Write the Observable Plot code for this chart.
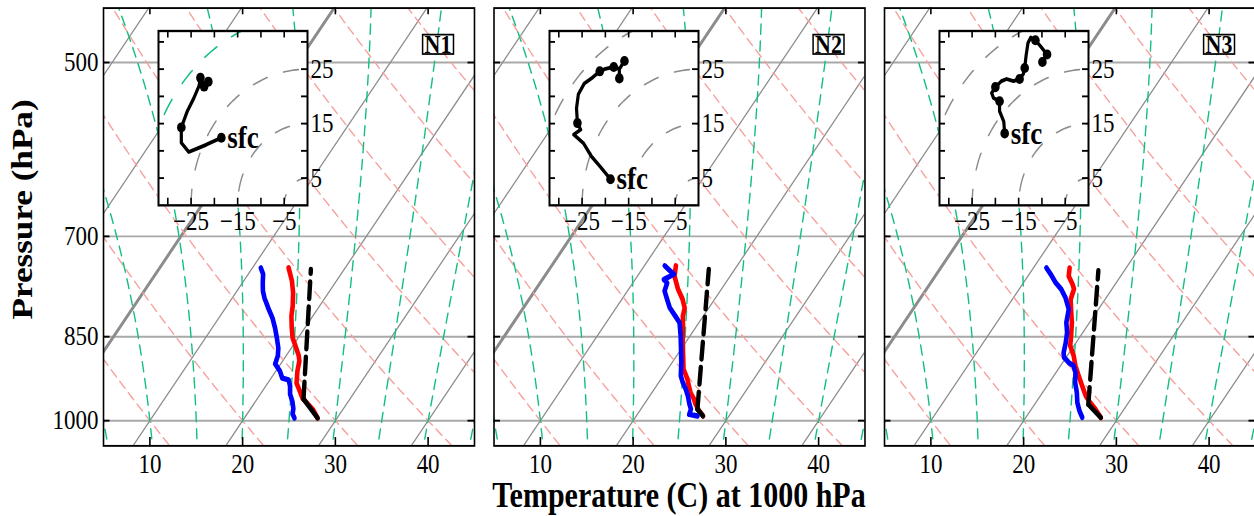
<!DOCTYPE html>
<html><head><meta charset="utf-8">
<script src="https://cdn.jsdelivr.net/npm/d3@7"></script>
<script src="https://cdn.jsdelivr.net/npm/@observablehq/plot@0.6"></script>
<style>
html{margin:0;padding:0;background:#fff;overflow:hidden;width:1254px;height:516px;}
body{margin:0;padding:0;background:#fff;width:1254px;height:516px;overflow:visible;}
#stage{position:relative;width:1256px;transform-origin:0 0;}
.abs{position:absolute;}
.ttl{font-family:"Liberation Serif","Times New Roman",Times,serif;font-weight:bold;font-size:30px;white-space:nowrap;color:#000;line-height:1.15;}
</style></head><body>
<div id="stage"></div>
<script>
// ---------------- data ----------------
const panels = ["N1", "N2", "N3"];
const pressureTicks = [500, 700, 850, 1000];
const tempTicks = [10, 20, 30, 40];
const isotherms = [-40, -30, -20, -10, 0, 10, 20, 30, 40, 50];
const dryThetas = [0, 10, 20, 30, 40, 50, 60, 70, 80, 90, 100];
const moistThetas = [5, 10, 15, 20, 25, 30, 35, 40, 45];
const hodoXTicks = [-30, -25, -20, -15, -10, -5];
const hodoXLabels = [-25, -15, -5];
const hodoYTicks = [5, 10, 15, 20, 25, 30];
const hodoYLabels = [5, 15, 25];
const ringRadii = [5, 15, 25, 35];

// N1 profiles (pressure hPa, temperature C)
const tempP1 = [744, 763, 781, 801, 817, 836, 852, 867, 881, 891, 908, 930, 944, 957, 968, 979, 995];
const temp1  = [13.9, 15.2, 16.2, 17.1, 17.7, 18.6, 19.4, 20.4, 21.3, 21.8, 22.3, 23.1, 24.0, 24.8, 25.8, 26.8, 27.9];
const dewP1  = [744, 753, 766, 778, 789, 804, 820, 836, 852, 869, 882, 896, 908, 921, 924, 935, 950, 964, 977, 987, 995];
const dew1   = [10.9, 11.6, 12.2, 12.8, 13.5, 14.6, 15.8, 16.8, 17.7, 18.6, 19.1, 19.4, 20.4, 21.2, 22.0, 22.6, 23.2, 24.0, 24.6, 24.9, 25.4];
const parcelSolidP1 = [995, 959], parcelSolid1 = [27.9, 25.0];
const parcelDashP1 = [959, 746], parcelDash1 = [25.0, 16.4];
// N2
const tempP2 = [741, 756, 775, 790, 804, 817, 832, 860, 882, 905, 922, 935, 948, 959, 968, 981, 991];
const temp2  = [13.4, 14.0, 15.3, 16.5, 17.4, 17.8, 18.5, 19.7, 20.7, 21.7, 22.8, 23.5, 24.2, 25.0, 25.5, 26.4, 27.2];
const dewP2  = [741, 748, 753, 761, 766, 778, 791, 804, 817, 827, 849, 871, 894, 917, 929, 941, 953, 969, 978, 988, 991];
const dew2   = [12.2, 13.1, 13.8, 13.1, 13.7, 14.0, 14.9, 15.8, 17.0, 17.9, 19.0, 20.0, 21.0, 21.9, 22.6, 23.4, 24.1, 24.9, 25.4, 25.6, 26.6];
const parcelSolidP2 = [991, 978], parcelSolid2 = [27.2, 26.1];
const parcelDashP2 = [978, 746], parcelDash2 = [26.1, 17.2];
// N3
const tempP3 = [744, 756, 768, 775, 791, 811, 827, 849, 865, 882, 899, 917, 935, 953, 966, 978, 994];
const temp3  = [13.9, 14.4, 15.4, 15.9, 16.3, 17.3, 18.1, 19.0, 19.6, 20.7, 21.6, 22.7, 23.8, 24.9, 25.9, 26.9, 28.1];
const dewP3  = [744, 753, 766, 775, 788, 806, 827, 843, 860, 877, 885, 894, 899, 911, 929, 947, 966, 981, 994];
const dew3   = [11.4, 12.3, 13.5, 14.5, 15.6, 16.8, 17.5, 18.3, 18.9, 19.4, 19.8, 20.7, 21.4, 22.1, 22.8, 23.7, 24.5, 25.3, 26.1];
const parcelSolidP3 = [994, 969], parcelSolid3 = [28.1, 25.8];
const parcelDashP3 = [969, 748], parcelDash3 = [25.8, 17.2];

// hodographs (u, v)
const hodoU1 = [-18.5, -21.8, -25.5, -27.1, -27.1, -25.8, -24.4, -23.3, -23.0, -22.4, -21.3, -22.2];
const hodoV1 = [12.4, 11.1, 9.8, 11.5, 14.3, 17.3, 19.7, 21.9, 23.4, 22.3, 22.7, 21.8];
const dotU1 = [-18.5, -27.1, -23.0, -21.3, -22.2];
const dotV1 = [12.4, 14.3, 23.4, 22.7, 21.8];
const hodoU2 = [-18.9, -21.0, -23.0, -24.7, -26.8, -25.3, -26.0, -26.2, -25.8, -24.5, -23.0, -21.2, -20.2, -18.2, -17.0, -17.0, -17.0, -15.9];
const hodoV2 = [4.8, 7.0, 9.0, 11.4, 13.0, 13.9, 15.1, 17.8, 20.4, 22.4, 23.3, 24.6, 25.0, 25.4, 25.0, 23.3, 25.0, 26.5];
const dotU2 = [-18.9, -26.0, -21.2, -18.2, -17.0, -15.9];
const dotV2 = [4.8, 15.1, 24.6, 25.4, 23.3, 26.5];
const hodoU3 = [-18.0, -18.2, -19.1, -19.1, -20.4, -20.8, -20.0, -18.7, -17.6, -16.1, -14.8, -14.0, -13.7, -13.4, -13.0, -12.4, -11.4, -10.3, -8.9, -9.9];
const hodoV3 = [13.2, 15.4, 17.3, 19.1, 19.7, 20.6, 21.7, 22.8, 23.2, 22.8, 23.2, 24.1, 25.2, 27.5, 29.8, 30.8, 30.3, 29.2, 27.7, 26.3];
const dotU3 = [-18.0, -19.1, -20.0, -14.8, -13.7, -11.4, -8.9, -9.9];
const dotV3 = [13.2, 19.1, 21.7, 23.2, 25.2, 30.3, 27.7, 26.3];
const ringColors = {
  N1: ["#8c8c8c", "#8c8c8c", "#8c8c8c", "#12bf80"],
  N2: ["#8c8c8c", "#8c8c8c", "#8c8c8c", "#8c8c8c"],
  N3: ["#8c8c8c", "#8c8c8c", "#8c8c8c", "#8c8c8c"]
};

// ---------------- helpers ----------------
const S = 1.17;                    // vertical stretch of the original figure
const H = 516 / S;
const K = 37.4;                    // skew (deg C per ln(p) unit)
const skewX = d => d.T + K * Math.log(1000 / d.p);
const fontFamily = '"Liberation Serif", "Times New Roman", Times, serif';
const GREEN = "#12bf80", PINK = "#f6a19e", GRAY = "#8c8c8c", GRID = "#a9a9a9";
const minusFmt = d => (d < 0 ? "\u2212" + Math.abs(d) : String(d));

const series = (panel, P, T) => P.map((p, i) => ({panel, p, T: T[i]}));
const tempRows = [...series("N1", tempP1, temp1), ...series("N2", tempP2, temp2), ...series("N3", tempP3, temp3)];
const dewRows = [...series("N1", dewP1, dew1), ...series("N2", dewP2, dew2), ...series("N3", dewP3, dew3)];
const solidRows = [...series("N1", parcelSolidP1, parcelSolid1), ...series("N2", parcelSolidP2, parcelSolid2), ...series("N3", parcelSolidP3, parcelSolid3)];
const dashRows = [...series("N1", parcelDashP1, parcelDash1), ...series("N2", parcelDashP2, parcelDash2), ...series("N3", parcelDashP3, parcelDash3)];

// background thermodynamic lines
const isoRows = isotherms.flatMap(T => [{T, p: 1070}, {T, p: 420}]);
const pLevels = d3.range(1070, 419, -5);
const dryRows = dryThetas.flatMap(th => pLevels.map(p => ({theta: th, p, T: (th + 273.15) * Math.pow(p / 1000, 0.2857) - 273.15})));
function moistLine(theta) {
  const Rd = 287.04, Cp = 1005.7, Lv = 2.501e6, eps = 0.622;
  const f = (p, T) => {
    const Tc = T - 273.15;
    const es = 6.112 * Math.exp(17.67 * Tc / (Tc + 243.5));
    const rs = eps * es / (p - es);
    return (Rd * T + Lv * rs) / (p * (Cp + Lv * Lv * rs * eps / (Rd * T * T)));
  };
  const integ = (p0, T0, p1) => {
    const n = Math.ceil(Math.abs(p1 - p0) / 2), h = (p1 - p0) / n;
    let p = p0, T = T0; const out = [{p, T}];
    for (let i = 0; i < n; i++) {
      const k1 = f(p, T), k2 = f(p + h / 2, T + h / 2 * k1), k3 = f(p + h / 2, T + h / 2 * k2), k4 = f(p + h, T + h * k3);
      T += h / 6 * (k1 + 2 * k2 + 2 * k3 + k4); p += h; out.push({p, T});
    }
    return out;
  };
  const T0 = theta + 273.15;
  const up = integ(1000, T0, 420), down = integ(1000, T0, 1070);
  return [...down.reverse(), ...up.slice(1)].map(d => ({theta, p: d.p, T: d.T - 273.15}));
}
const moistRows = moistThetas.flatMap(moistLine);

// ---------------- main skew-T panels ----------------
const W = 1256, mL = 103, mR = 1;
const mTop = 7.5 / S, mBottom = H - 445.3 / S;
const innerH = H - mTop - mBottom;
const pad = 0.05;
const step = (W - mL - mR) / (panels.length - pad);
const bw = step * (1 - pad);

const main = Plot.plot({
  width: W, height: H,
  marginLeft: mL, marginRight: mR, marginTop: mTop, marginBottom: mBottom,
  fx: {domain: panels, paddingInner: pad, paddingOuter: 0, round: false, axis: null, label: null},
  x: {domain: [5, 45], label: null},
  y: {type: "log", domain: [1050, 450], label: null},
  style: {fontFamily, fontSize: "23px", background: "transparent", color: "black", overflow: "visible", maxWidth: "none"},
  marks: [
    Plot.ruleY(pressureTicks, {y: d => d, stroke: GRID, strokeWidth: 1.7}),
    Plot.line(isoRows.filter(d => d.T !== 0), {x: skewX, y: "p", z: "T", stroke: GRAY, strokeWidth: 1.2, clip: true}),
    Plot.line(isoRows.filter(d => d.T === 0), {x: skewX, y: "p", z: "T", stroke: GRAY, strokeWidth: 2.8, clip: true}),
    Plot.line(dryRows, {x: skewX, y: "p", z: "theta", stroke: PINK, strokeWidth: 1.3, strokeDasharray: "8,5", clip: true}),
    Plot.line(moistRows, {x: skewX, y: "p", z: "theta", stroke: GREEN, strokeWidth: 1.4, strokeDasharray: "8.5,6", clip: true}),
    Plot.line(tempRows, {fx: "panel", z: "panel", x: skewX, y: "p", stroke: "#ff0000", strokeWidth: 4.6, strokeLinejoin: "round", strokeLinecap: "round", clip: true}),
    Plot.line(dewRows, {fx: "panel", z: "panel", x: skewX, y: "p", stroke: "#0000ff", strokeWidth: 4.6, strokeLinejoin: "round", strokeLinecap: "round", clip: true}),
    Plot.line(solidRows, {fx: "panel", z: "panel", x: skewX, y: "p", stroke: "black", strokeWidth: 4.4, strokeLinecap: "round", clip: true}),
    Plot.line(dashRows, {fx: "panel", z: "panel", x: skewX, y: "p", stroke: "black", strokeWidth: 4.4, strokeDasharray: "14.5,7", clip: true}),
    Plot.frame({stroke: "black", strokeWidth: 1.6}),
    Plot.tickX(tempTicks, {x: d => d, insetTop: innerH - 7, stroke: "black", strokeWidth: 1.6}),
    Plot.tickX(tempTicks, {x: d => d, insetBottom: innerH - 5.8, stroke: "black", strokeWidth: 1.6}),
    Plot.tickY(pressureTicks, {y: d => d, insetRight: bw - 6.5, stroke: "black", strokeWidth: 1.6}),
    Plot.tickY(pressureTicks, {y: d => d, insetLeft: bw - 6.5, stroke: "black", strokeWidth: 1.6}),
    Plot.axisX({ticks: tempTicks, tickSize: 0, tickPadding: 7, label: null, tickFormat: d => String(d)}),
    Plot.axisY({ticks: pressureTicks, tickSize: 0, tickPadding: 5, label: null, tickFormat: d => String(d)}),
    Plot.text(panels, {fx: d => d, text: d => d, frameAnchor: "top-right", lineAnchor: "top", dx: -23, dy: 23, fontWeight: "bold", fontSize: 22, fill: "black", ariaDescription: "panel-label"})
  ]
});

const stage = document.getElementById("stage");
stage.style.height = H + "px";
stage.style.transform = `scaleY(${S})`;
main.classList.add("abs");
main.style.left = "0px"; main.style.top = "0px";
stage.appendChild(main);

// boxes around panel labels
main.querySelectorAll('g[aria-description="panel-label"] text').forEach(t => {
  const b = t.getBBox();
  const fs = 22;
  const base = b.y + b.height * 0.805;
  const r = document.createElementNS("http://www.w3.org/2000/svg", "rect");
  r.setAttribute("x", b.x - 2);
  r.setAttribute("y", base - 0.662 * fs - 1.3);
  r.setAttribute("width", b.width + 4);
  r.setAttribute("height", 0.662 * fs + 2);
  r.setAttribute("fill", "white");
  r.setAttribute("stroke", "black");
  r.setAttribute("stroke-width", 1.5);
  if (t.getAttribute("transform")) r.setAttribute("transform", t.getAttribute("transform"));
  t.parentNode.insertBefore(r, t);
});

// ---------------- hodograph insets ----------------
const fxScale = main.scale("fx");
const panelLeft = p => (fxScale && fxScale.apply ? fxScale.apply(p) : mL + panels.indexOf(p) * step);
const hodos = {
  N1: [hodoU1, hodoV1, dotU1, dotV1],
  N2: [hodoU2, hodoV2, dotU2, dotV2],
  N3: [hodoU3, hodoV3, dotU3, dotV3]
};
const BOX = 149, im = 2, imR = 44, imB = 44;
const ringRows = ringRadii.flatMap(r => d3.range(0, 362, 2).map(a => ({r, u: r * Math.cos(a * Math.PI / 180), v: r * Math.sin(a * Math.PI / 180)})));

panels.forEach(panel => {
  const [U, V, DU, DV] = hodos[panel];
  const path = U.map((u, i) => ({u, v: V[i]}));
  const dots = DU.map((u, i) => ({u, v: DV[i]}));
  const inset = Plot.plot({
    width: BOX + im + imR, height: BOX + im + imB,
    marginLeft: im, marginTop: im, marginRight: imR, marginBottom: imB,
    x: {domain: [-32, 0], label: null},
    y: {domain: [0, 32], label: null},
    style: {fontFamily, fontSize: "23px", background: "transparent", color: "black", overflow: "visible", maxWidth: "none"},
    marks: [
      Plot.frame({fill: "white", stroke: "none"}),
      ...ringRadii.map((r, i) => Plot.line(ringRows.filter(d => d.r === r), {x: "u", y: "v", stroke: ringColors[panel][i], strokeWidth: 1.4, strokeDasharray: "15,17", clip: true})),
      Plot.line(path, {x: "u", y: "v", stroke: "black", strokeWidth: 3.2, strokeLinejoin: "round", strokeLinecap: "round"}),
      Plot.dot(dots, {x: "u", y: "v", r: 4.3, fill: "black"}),
      Plot.text([path[0]], {x: "u", y: "v", text: () => "sfc", textAnchor: "start", dx: 6, fontWeight: "bold", fontSize: 27}),
      Plot.frame({stroke: "black", strokeWidth: 2}),
      Plot.tickX(hodoXTicks, {x: d => d, insetTop: BOX - 6, stroke: "black", strokeWidth: 1.6}),
      Plot.tickX(hodoXTicks, {x: d => d, insetBottom: BOX - 6, stroke: "black", strokeWidth: 1.6}),
      Plot.tickY(hodoYTicks, {y: d => d, insetRight: BOX - 6, stroke: "black", strokeWidth: 1.6}),
      Plot.tickY(hodoYTicks, {y: d => d, insetLeft: BOX - 6, stroke: "black", strokeWidth: 1.6}),
      Plot.axisX({ticks: hodoXLabels, tickSize: 0, tickPadding: 5, label: null, tickFormat: minusFmt}),
      Plot.axisY({anchor: "right", ticks: hodoYLabels, tickSize: 0, tickPadding: 3, label: null, tickFormat: minusFmt})
    ]
  });
  inset.classList.add("abs");
  inset.style.left = (panelLeft(panel) + 55 - im) + "px";
  inset.style.top = (30 / S - im) + "px";
  stage.appendChild(inset);
});

// ---------------- axis titles ----------------
const xt = document.createElement("div");
xt.className = "ttl abs";
xt.textContent = "Temperature (C) at 1000 hPa";
xt.style.left = (panelLeft("N2") + bw / 2) + "px";
xt.style.top = (496 / S) + "px";
xt.style.transform = "translate(-50%,-50%)";
stage.appendChild(xt);
const yt = document.createElement("div");
yt.className = "ttl abs";
yt.textContent = "Pressure (hPa)";
yt.style.left = "22px";
yt.style.top = (210 / S) + "px";
yt.style.transform = "translate(-50%,-50%) rotate(-90deg)";
stage.appendChild(yt);
</script>
</body></html>
